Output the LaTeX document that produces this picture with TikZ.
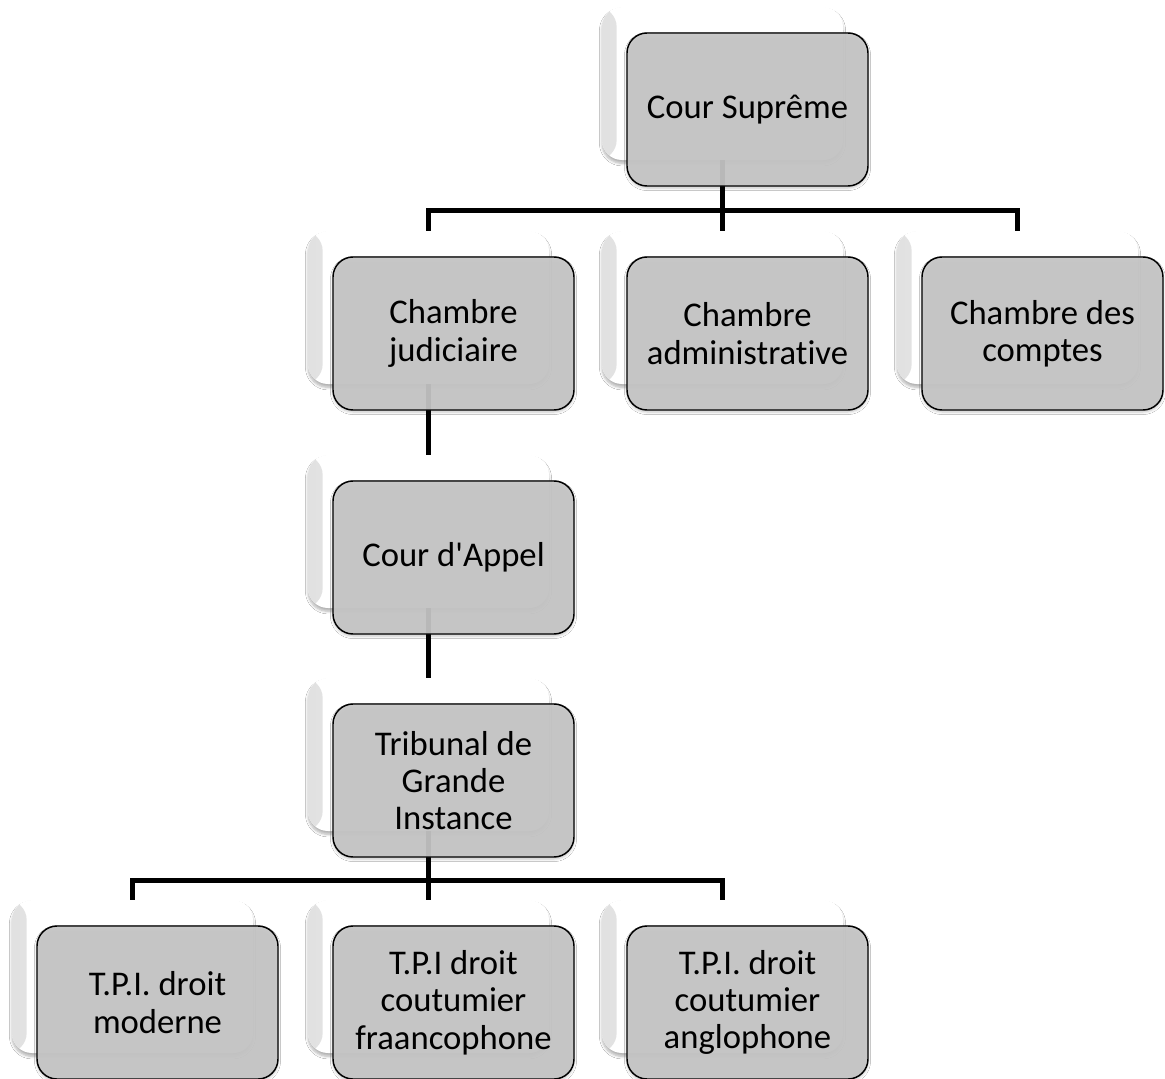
\documentclass[tikz,border=0pt]{standalone}
\usepackage{fontspec}
\setmainfont{Carlito}[Ligatures={TeXOff,NoCommon}]
\usetikzlibrary{shadows,shadows.blur}
\definecolor{frontgray}{HTML}{C6C6C6}
\tikzset{
  backbox/.style={fill=white, draw=none, rounded corners=15pt,
    minimum width=180.75pt, minimum height=114.75pt, inner sep=0pt,
    path picture={\shade[left color=black!12, right color=white]
      ([xshift=-1pt]path picture bounding box.south west) rectangle ([xshift=11pt]path picture bounding box.north west);},
    blur shadow={shadow xshift=0pt, shadow yshift=-2.5pt, shadow opacity=30, shadow blur steps=6}},
  frontbox/.style={fill=frontgray, fill opacity=0.93, text opacity=1, draw=black,
    line width=1.1pt, rounded corners=15pt,
    minimum width=180.75pt, minimum height=114.75pt, inner sep=0pt,
    align=center, text=black, font=\fontsize{26}{28}\selectfont,
    blur shadow={shadow xshift=0pt, shadow yshift=-1.5pt, shadow opacity=25, shadow blur steps=4}},
  conn/.style={line width=3.75pt, draw=black}
}
\newcommand{\orgback}[3]{\node[backbox] (#1b) at (#2+120.5,#3+76.5) {};}
\newcommand{\orgfront}[4]{\node[frontbox] (#1f) at (#2+145.5,#3+102.5) {#4};}
\begin{document}
\begin{tikzpicture}[x=0.75pt,y=-0.75pt]
\fill[white] (0,0) rectangle (1165,1079);
\useasboundingbox (0,0) rectangle (1165,1079);
% back boxes
\orgback{cs}{602}{7}
\orgback{cj}{308}{231}
\orgback{ca}{602}{231}
\orgback{cc}{897}{231}
\orgback{ap}{308}{455}
\orgback{tg}{308}{678}
\orgback{ta}{12}{900}
\orgback{tb}{308}{900}
\orgback{tc}{602}{900}
% connectors
\coordinate (y1) at (0,210);
\coordinate (y2) at (0,880);
\draw[conn] (csb.south) -- (csb.south |- y1);
\draw[conn] (cjb.north) |- (cab.north |- y1) -| (ccb.north);
\draw[conn] (cab.north) -- (cab.north |- y1);
\draw[conn] (cjb.south) -- (apb.north);
\draw[conn] (apb.south) -- (tgb.north);
\draw[conn] (tgb.south) -- (tgb.south |- y2);
\draw[conn] (tab.north) |- (tbb.north |- y2) -| (tcb.north);
\draw[conn] (tbb.north) -- (tbb.north |- y2);
% front boxes
\orgfront{cs}{602}{7}{Cour Suprême}
\orgfront{cj}{308}{231}{Chambre\\judiciaire}
\orgfront{ca}{602}{231}{Chambre\\administrative}
\orgfront{cc}{897}{231}{Chambre des\\comptes}
\orgfront{ap}{308}{455}{Cour d'Appel}
\orgfront{tg}{308}{678}{Tribunal de\\Grande\\Instance}
\orgfront{ta}{12}{900}{T.P.I. droit\\moderne}
\orgfront{tb}{308}{900}{T.P.I droit\\coutumier\\fraancophone}
\orgfront{tc}{602}{900}{T.P.I. droit\\coutumier\\anglophone}
\end{tikzpicture}
\end{document}
